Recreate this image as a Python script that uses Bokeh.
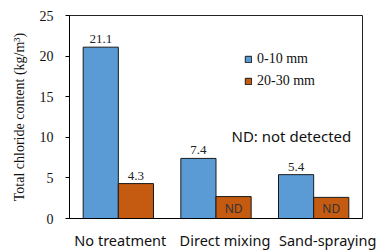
from bokeh.plotting import figure
from bokeh.models import (Range1d, ColumnDataSource, Label,
                          Legend, LegendItem, FixedTicker)
from bokeh.transform import dodge
from bokeh.core.properties import value
from bokeh.embed import file_html
from bokeh.resources import INLINE

# ---- data ----
categories = ["No treatment", "Direct mixing", "Sand-spraying"]
series_names = ["0-10 mm", "20-30 mm"]
shallow = [21.1, 7.4, 5.4]          # 0-10 mm
deep = [4.3, 2.7, 2.6]              # 20-30 mm
deep_detected = [True, False, False]
y_ticks = [0, 5, 10, 15, 20, 25]
y_title = "Total chloride content (kg/m\u00b3)"
note_text = "ND: not detected"

# ---- style ----
BLUE = "#5B9BD5"
ORANGE = "#C55A11"
SERIF = "Liberation Serif"
SANS = "Noto Sans"
FRAME_W = 293
label_px_offsets = [2, 9, 14]   # screen px shift of category labels

n = len(categories)
centers = [i + 0.5 for i in range(n)]   # category slot centres on a 0..n axis

src = ColumnDataSource(dict(
    xc=centers,
    shallow=shallow,
    deep=deep,
    shallow_lbl=[f"{v:.1f}" for v in shallow],
    deep_lbl=[f"{v:.1f}" if d else "" for v, d in zip(deep, deep_detected)],
    nd_lbl=["" if d else "ND" for d in deep_detected],
    zero=[0] * n,
))

p = figure(x_range=Range1d(0, n), y_range=Range1d(0, 25),
           width=381, height=252,
           min_border_left=69, min_border_right=19,
           min_border_top=15, min_border_bottom=32,
           output_backend="svg", toolbar_location=None)

bw = 0.36
r1 = p.vbar(x=dodge("xc", -bw / 2), top="shallow", width=bw,
            source=src, fill_color=BLUE, line_color="#1a1a1a", line_width=1)
r2 = p.vbar(x=dodge("xc", bw / 2), top="deep", width=bw,
            source=src, fill_color=ORANGE, line_color="#1a1a1a", line_width=1)

# value labels
p.text(x=dodge("xc", -bw / 2), y="shallow", text="shallow_lbl",
       source=src, text_align="center", text_baseline="bottom", y_offset=-4,
       text_font=value(SERIF), text_font_size="13px", text_color="#222222")
p.text(x=dodge("xc", bw / 2), y="deep", text="deep_lbl",
       source=src, text_align="center", text_baseline="bottom", y_offset=-4,
       text_font=value(SERIF), text_font_size="13px", text_color="#222222")
p.text(x=dodge("xc", bw / 2), y="zero", text="nd_lbl",
       source=src, text_align="center", text_baseline="bottom", y_offset=-2,
       text_font=value(SANS), text_font_size="12px", text_color="#333333")

# category labels on the x axis (nudged slightly like the original)
lab_pos = [c + off * n / FRAME_W for c, off in zip(centers, label_px_offsets)]
p.xaxis.ticker = FixedTicker(ticks=lab_pos)
p.xaxis.major_label_overrides = {t: c for t, c in zip(lab_pos, categories)}
p.xaxis.major_tick_line_color = None
p.xaxis.major_tick_in = 0
p.xaxis.major_tick_out = 0
p.xaxis.minor_tick_line_color = None
p.xaxis.minor_tick_in = 0
p.xaxis.minor_tick_out = 0
p.xaxis.axis_line_color = "black"
p.xaxis.major_label_standoff = 11
p.xaxis.major_label_text_font = SANS
p.xaxis.major_label_text_font_size = "14.5px"
p.xaxis.major_label_text_color = "#111111"

note = Label(x=162, y=83, x_units="screen", y_units="screen", text=note_text,
             text_align="left", text_baseline="middle",
             text_font=SANS, text_font_size="15px", text_color="#111111")
p.add_layout(note)

legend = Legend(items=[LegendItem(label=series_names[0], renderers=[r1]),
                       LegendItem(label=series_names[1], renderers=[r2])],
                location=(175, 129), padding=0, margin=0, spacing=6,
                glyph_width=8, glyph_height=8, label_height=14, label_standoff=5,
                label_text_font=SERIF, label_text_font_size="14px",
                label_text_color="#111111",
                border_line_color=None, background_fill_alpha=0)
p.add_layout(legend, "center")

p.xgrid.visible = False
p.ygrid.visible = False
p.outline_line_color = "#222222"
p.outline_line_width = 1

p.yaxis.ticker = FixedTicker(ticks=y_ticks)
p.yaxis.minor_tick_line_color = None
p.yaxis.major_tick_in = 0
p.yaxis.major_tick_out = 4
p.yaxis.major_label_standoff = 12
p.yaxis.major_label_text_font = SERIF
p.yaxis.major_label_text_font_size = "14px"
p.yaxis.major_label_text_color = "#111111"
p.yaxis.axis_label = y_title
p.yaxis.axis_label_text_font = SERIF
p.yaxis.axis_label_text_font_size = "14px"
p.yaxis.axis_label_text_font_style = "normal"
p.yaxis.axis_label_text_color = "#111111"
p.yaxis.axis_label_standoff = 10
p.yaxis.axis_line_color = "black"

open("out.html", "w").write(file_html(p, INLINE))
